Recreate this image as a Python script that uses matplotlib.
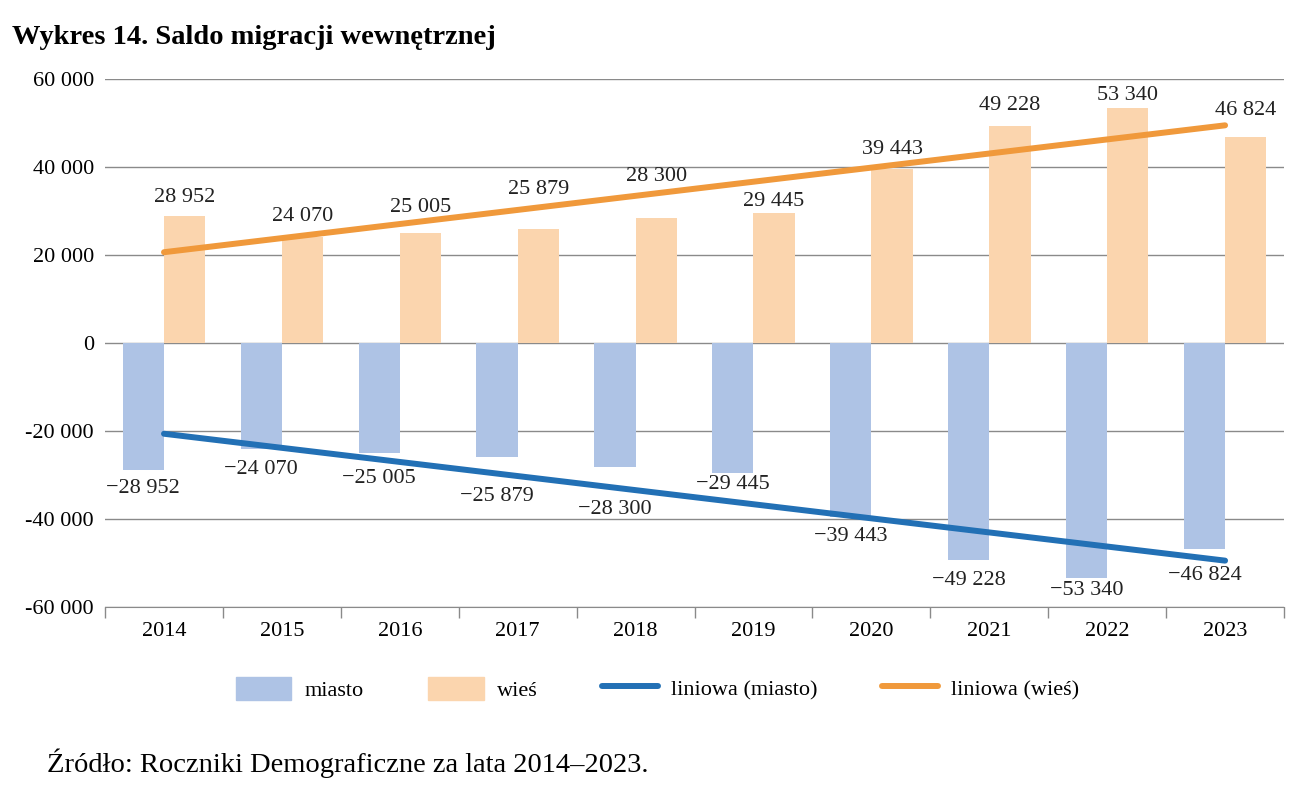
import numpy as np
import matplotlib
import matplotlib.pyplot as plt
from matplotlib.lines import Line2D
from matplotlib.patches import Patch

matplotlib.use('agg')

years = [2014, 2015, 2016, 2017, 2018, 2019, 2020, 2021, 2022, 2023]
wies = [28952, 24070, 25005, 25879, 28300, 29445, 39443, 49228, 53340, 46824]
miasto = [-v for v in wies]
y_ticks = [-60000, -40000, -20000, 0, 20000, 40000, 60000]

# label distance from the bar end, in pixels (hand placed in the original)
label_gap = [18, 21, 25, 40, 42, 12, 20, 21, 13, 26]

c_miasto = '#AEC3E5'
c_wies = '#FBD5AE'
c_line_m = '#2270B5'
c_line_w = '#F0993B'
grid_c = '#8A8A8A'

plt.rcParams['font.family'] = ['Liberation Serif', 'DejaVu Serif']

fig = plt.figure(figsize=(12.97, 7.89), dpi=100)
ax = fig.add_axes([0.081, 0.2307, 0.909, 0.6692])

x = np.arange(len(years))
w = 0.35
ax.bar(x - w / 2, miasto, w, color=c_miasto, zorder=2)
ax.bar(x + w / 2, wies, w, color=c_wies, zorder=2)

# linear trends
pm = np.polyfit(x, miasto, 1)
pw = np.polyfit(x, wies, 1)
ax.plot(x, np.polyval(pm, x), color=c_line_m, lw=4.3, solid_capstyle='round', zorder=3)
ax.plot(x, np.polyval(pw, x), color=c_line_w, lw=4.3, solid_capstyle='round', zorder=3)

def fmt(v):
    s = '{:,}'.format(abs(v)).replace(',', ' ')
    return ('−' if v < 0 else '') + s

for i in range(len(years)):
    ax.annotate(fmt(wies[i]), (x[i] + w / 2, wies[i]), xytext=(0, label_gap[i]),
                textcoords='offset pixels', ha='center', va='center',
                fontsize=16, color='#222222', zorder=4)
    ax.annotate(fmt(miasto[i]), (x[i] - w / 2, miasto[i]), xytext=(0, -label_gap[i]),
                textcoords='offset pixels', ha='center', va='center',
                fontsize=16, color='#222222', zorder=4)

ax.set_xlim(-0.5, len(years) - 0.5)
ax.set_ylim(-60000, 60000)
ax.set_yticks(y_ticks)
ax.set_yticklabels([('-' if t < 0 else '') + '{:,}'.format(abs(t)).replace(',', ' ') for t in y_ticks])
ax.set_xticks(x)
ax.set_xticklabels([str(y) for y in years])
ax.set_xticks(np.arange(-0.5, len(years)), minor=True)
ax.tick_params(axis='x', which='major', length=0, pad=11, labelsize=16)
ax.tick_params(axis='x', which='minor', length=8, color=grid_c, width=1)
ax.tick_params(axis='y', length=0, pad=8, labelsize=16)

ax.grid(axis='y', color=grid_c, lw=1, zorder=0)
for s in ['top', 'right', 'left']:
    ax.spines[s].set_visible(False)
ax.spines['bottom'].set_color(grid_c)

handles = [Patch(color=c_miasto), Patch(color=c_wies),
           Line2D([0], [0], color=c_line_m, lw=4.3, solid_capstyle='round'),
           Line2D([0], [0], color=c_line_w, lw=4.3, solid_capstyle='round')]
labels = ['miasto', 'wieś', 'liniowa (miasto)', 'liniowa (wieś)']
fig.legend(handles, labels, loc='center', bbox_to_anchor=(0.507, 0.127), ncol=4,
           frameon=False, fontsize=16, handlelength=2.5, handleheight=1.26,
           columnspacing=2.9, handletextpad=0.6)

fig.text(0.009, 0.953, 'Wykres 14. Saldo migracji wewnętrznej', fontsize=20.5,
         fontweight='bold', va='center', ha='left')
fig.text(0.036, 0.033, 'Źródło: Roczniki Demograficzne za lata 2014–2023.', fontsize=20.5,
         va='center', ha='left')

fig.savefig('out.png', dpi=100)
